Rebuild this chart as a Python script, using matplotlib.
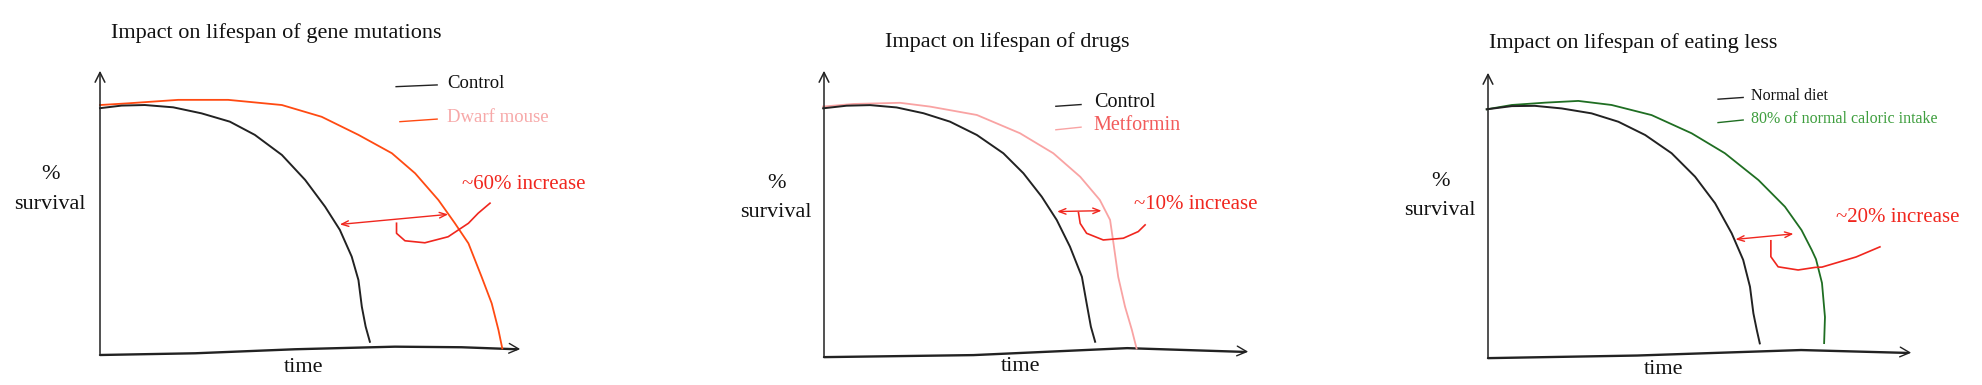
import matplotlib
matplotlib.use("Agg")
import matplotlib.pyplot as plt

# ── Data (time, % survival) ──────────────────────────────────────────

# panel 1: gene mutations
gene_ctrl_t = [0, 5.1, 10.6, 17.3, 24.0, 30.7, 36.6, 43.0, 48.5, 53.2, 56.7, 59.5, 61.1, 61.9, 62.8, 63.8]
gene_ctrl_s = [86.0, 86.9, 87.1, 86.3, 84.2, 81.3, 76.7, 69.7, 61.0, 51.7, 43.6, 34.3, 26.1, 16.8, 9.9, 4.6]
gene_dwarf_t = [0, 6.7, 18.5, 30.3, 43.0, 52.4, 61.1, 69.0, 74.5, 80.0, 83.9, 87.1, 90.2, 92.6, 94.2, 95.1]
gene_dwarf_s = [87.1, 87.7, 88.9, 88.9, 87.1, 83.0, 76.7, 70.3, 63.3, 54.0, 45.9, 38.9, 27.3, 18.0, 8.7, 2.3]

# panel 2: drugs
drug_ctrl_t = [-0.2, 5.3, 10.8, 17.0, 23.3, 29.5, 35.8, 42.0, 46.7, 51.0, 54.5, 57.6, 60.4, 61.5, 62.5, 63.5]
drug_ctrl_s = [86.1, 87.0, 87.2, 86.4, 84.4, 81.5, 76.9, 70.6, 63.7, 55.6, 47.6, 38.4, 28.0, 18.9, 10.8, 5.6]
drug_met_t = [-0.2, 6.9, 17.8, 24.8, 35.8, 45.9, 53.7, 60.0, 64.6, 67.0, 67.8, 68.9, 70.5, 72.1, 73.2]
drug_met_s = [86.7, 87.6, 88.0, 86.7, 83.8, 77.5, 70.6, 62.5, 54.5, 47.6, 39.5, 28.0, 17.7, 9.7, 3.3]

# panel 3: eating less
diet_ctrl_t = [-0.3, 5.6, 11.0, 17.3, 24.3, 30.6, 36.9, 43.1, 48.6, 53.3, 57.2, 59.9, 61.5, 62.3, 63.1, 63.8]
diet_ctrl_s = [86.4, 87.5, 87.6, 86.7, 85.0, 82.1, 77.5, 71.2, 63.1, 53.9, 43.5, 34.3, 25.0, 15.8, 10.0, 5.4]
diet_cr_t = [-0.3, 5.6, 13.4, 21.2, 29.0, 38.4, 47.8, 55.6, 63.5, 69.7, 73.6, 76.0, 77.0, 78.4, 79.1, 78.9]
diet_cr_s = [86.4, 87.9, 88.7, 89.3, 87.9, 84.4, 78.1, 71.2, 61.9, 52.7, 44.6, 37.7, 34.5, 26.3, 14.5, 5.5]

# hand-drawn x axis wobble
gene_xaxis_t = [0, 22.5, 46.1, 69.7, 85.5, 100]
gene_xaxis_s = [0, 0.6, 2.0, 2.9, 2.7, 2.0]
drug_xaxis_t = [0, 35, 71, 100]
drug_xaxis_s = [0.3, 1.0, 3.4, 2.1]
diet_xaxis_t = [0, 35, 73.5, 100]
diet_xaxis_s = [0.3, 1.2, 3.1, 2.1]

# "increase" annotation: double arrow ends and curly bracket
gene_arrow = [(56.7, 45.5), (82.3, 49.0)]
gene_brace_t = [70.1, 70.1, 72.1, 76.8, 82.3, 87.1, 89.4, 92.2]
gene_brace_s = [45.9, 42.4, 39.8, 39.1, 41.2, 45.9, 49.4, 52.9]
drug_arrow = [(54.6, 50.5), (65.0, 50.8)]
drug_brace_t = [59.6, 60.0, 61.5, 65.4, 70.1, 73.6, 75.2]
drug_brace_s = [50.1, 46.4, 43.0, 40.7, 41.3, 43.6, 45.9]
diet_arrow = [(58.1, 41.4), (71.7, 43.3)]
diet_brace_t = [66.4, 66.4, 68.1, 72.8, 76.8, 78.4, 86.4, 92.0]
diet_brace_s = [40.9, 35.4, 31.9, 30.8, 31.7, 31.8, 35.3, 38.8]

titles = ["Impact on lifespan of gene mutations",
          "Impact on lifespan of drugs",
          "Impact on lifespan of eating less"]
increase_labels = ["~60% increase", "~10% increase", "~20% increase"]
ctrl_labels = ["Control", "Control", "Normal diet"]
treat_labels = ["Dwarf mouse", "Metformin", "80% of normal caloric intake"]

# ── Styling ───────────────────────────────────────────────────────────

W, H = 1982, 385
FONT = "Liberation Serif"
RED = "#f0261e"
INK = "#222222"

panels = [
    dict(box=(100, 355, 423, 287), ctrl=(gene_ctrl_t, gene_ctrl_s),
         treat=(gene_dwarf_t, gene_dwarf_s), treat_col="#ff4a12", treat_txt="#f7a8a8",
         xaxis=(gene_xaxis_t, gene_xaxis_s), arrow=gene_arrow,
         brace=(gene_brace_t, gene_brace_s),
         title_xy=(2.6, 112.2), title_ha="left",
         leg_ctrl=(70.0, 79.7, 93.9), leg_treat=(70.9, 79.7, 81.9), leg_x=82.0, leg_fs=13.5,
         inc_xy=(85.6, 59.5), pct_x=-11.8, pct_y=(63.0, 52.5), time_xy=(48.2, -4.2)),
    dict(box=(824, 358, 427, 290), ctrl=(drug_ctrl_t, drug_ctrl_s),
         treat=(drug_met_t, drug_met_s), treat_col="#f9a3a3", treat_txt="#f25c5c",
         xaxis=(drug_xaxis_t, drug_xaxis_s), arrow=drug_arrow,
         brace=(drug_brace_t, drug_brace_s),
         title_xy=(43.0, 109.0), title_ha="center",
         leg_ctrl=(54.3, 60.2, 87.2), leg_treat=(54.3, 60.2, 79.3), leg_x=63.2, leg_fs=14.5,
         inc_xy=(72.6, 52.8), pct_x=-11.2, pct_y=(60.0, 50.3), time_xy=(46.1, -3.1)),
    dict(box=(1488, 359, 426, 289), ctrl=(diet_ctrl_t, diet_ctrl_s),
         treat=(diet_cr_t, diet_cr_s), treat_col="#1f6e22", treat_txt="#3e9e3e",
         xaxis=(diet_xaxis_t, diet_xaxis_s), arrow=diet_arrow,
         brace=(diet_brace_t, diet_brace_s),
         title_xy=(0.2, 109.3), title_ha="left",
         leg_ctrl=(54.0, 59.9, 90.3), leg_treat=(54.0, 59.9, 82.4), leg_x=61.7, leg_fs=11.5,
         inc_xy=(81.7, 48.8), pct_x=-11.2, pct_y=(61.5, 51.5), time_xy=(41.3, -3.5)),
]

fig = plt.figure(figsize=(W / 100, H / 100), dpi=100)
fig.patch.set_facecolor("white")

for i, p in enumerate(panels):
    x0, y0, w, h = p["box"]
    ax = fig.add_axes([x0 / W, 1 - y0 / H, w / W, h / H])
    ax.set_xlim(0, 100)
    ax.set_ylim(0, 100)
    ax.axis("off")

    # hand-drawn axes with open arrowheads
    ax.annotate("", xy=(0, 100), xytext=(0, -0.5),
                arrowprops=dict(arrowstyle="->,head_length=0.7,head_width=0.35",
                                color=INK, lw=1.1), annotation_clip=False)
    xt, xs = p["xaxis"]
    ax.plot(xt[:-1] + [xt[-1] - 1.5], xs, color=INK, lw=1.7,
            clip_on=False, solid_capstyle="round", solid_joinstyle="round")
    ax.annotate("", xy=(xt[-1], xs[-1]), xytext=(xt[-1] - 2, xs[-1] + 0.2),
                arrowprops=dict(arrowstyle="->,head_length=0.7,head_width=0.35",
                                color=INK, lw=1.0), annotation_clip=False)

    # survival curves
    ax.plot(*p["treat"], color=p["treat_col"], lw=1.3, clip_on=False,
            solid_joinstyle="round")
    ax.plot(*p["ctrl"], color=INK, lw=1.4, clip_on=False, solid_joinstyle="round")

    # increase annotation
    a0, a1 = p["arrow"]
    ax.annotate("", xy=a1, xytext=a0,
                arrowprops=dict(arrowstyle="<->,head_length=0.5,head_width=0.2",
                                color=RED, lw=1.0, shrinkA=0, shrinkB=0))
    ax.plot(*p["brace"], color=RED, lw=1.2, clip_on=False, solid_joinstyle="round")
    ax.text(*p["inc_xy"], increase_labels[i], color=RED, fontsize=15,
            family=FONT, ha="left", va="center")

    # legend strokes
    lc, lt = p["leg_ctrl"], p["leg_treat"]
    ax.plot([lc[0], lc[1]], [lc[2] - 0.4, lc[2] + 0.2], color=INK, lw=1.0, clip_on=False)
    ax.plot([lt[0], lt[1]], [lt[2] - 0.6, lt[2] + 0.3], color=p["treat_col"], lw=1.0, clip_on=False)
    ax.text(p["leg_x"], lc[2] + 0.8, ctrl_labels[i], fontsize=p["leg_fs"],
            family=FONT, color="#111111", va="center")
    ax.text(p["leg_x"], lt[2] + 0.8, treat_labels[i], fontsize=p["leg_fs"],
            family=FONT, color=p["treat_txt"], va="center")

    # titles and axis labels
    ax.text(*p["title_xy"], titles[i], fontsize=16, family=FONT,
            ha=p["title_ha"], va="center", color="#111111")
    ax.text(p["pct_x"], p["pct_y"][0], "%", fontsize=16, family=FONT,
            ha="center", va="center", color="#111111")
    ax.text(p["pct_x"], p["pct_y"][1], "survival", fontsize=16, family=FONT,
            ha="center", va="center", color="#111111")
    ax.text(*p["time_xy"], "time", fontsize=16, family=FONT,
            ha="center", va="center", color="#111111")

fig.savefig("out.png", dpi=100, facecolor="white")
